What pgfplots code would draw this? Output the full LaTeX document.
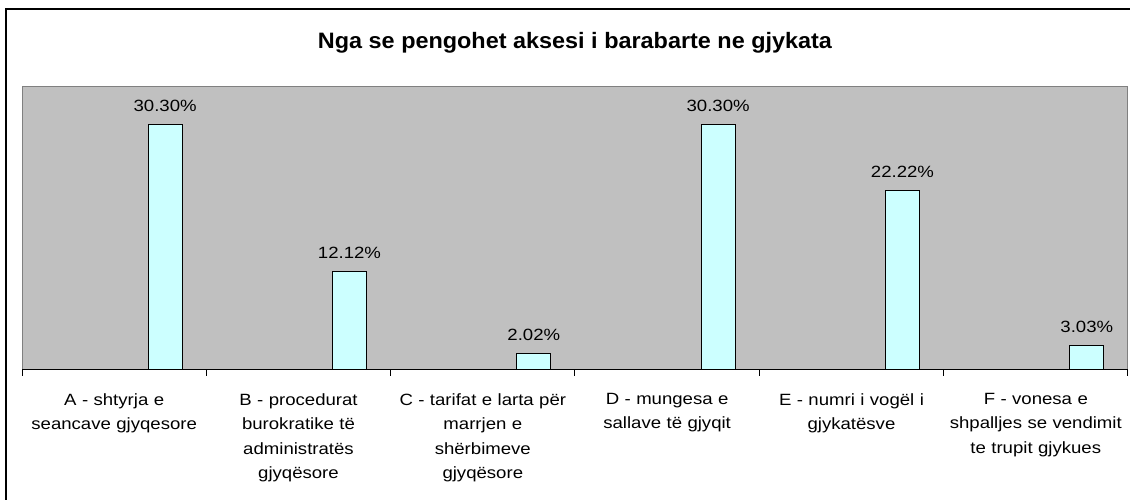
\documentclass[border=0pt]{standalone}
\usepackage{fontspec}
\setmainfont{Liberation Sans}
\newfontfamily\labfont[FakeStretch=1.14]{Liberation Sans}
\newfontfamily\titlefont[FakeStretch=1.05]{Liberation Sans}
\usepackage{pgfplots}
\pgfplotsset{compat=1.18}
\definecolor{plotgray}{HTML}{C0C0C0}
\definecolor{edgegray}{HTML}{808080}
\definecolor{barcyan}{HTML}{CCFFFF}
\begin{document}
\begin{tikzpicture}[x=1pt,y=1pt]
\useasboundingbox (0,0) rectangle (1130,500);
\fill[white] (0,0) rectangle (1130,500);
\draw[line width=2pt] (6,-5) -- (6,491) -- (1135,491);
\begin{axis}[
  at={(22pt,130pt)}, anchor=south west,
  width=1106pt, height=283pt, scale only axis,
  xmin=-0.5, xmax=5.5, ymin=0, ymax=35,
  ytick=\empty,
  xtick={0,1,2,3,4,5},
  xticklabels={{A - shtyrja e\\seancave gjyqesore},
               {B - procedurat\\burokratike të\\administratës\\gjyqësore},
               {C - tarifat e larta për\\marrjen e\\shërbimeve\\gjyqësore},
               {D - mungesa e\\sallave të gjyqit},
               {E - numri i vogël i\\gjykatësve},
               {F - vonesa e\\shpalljes se vendimit\\te trupit gjykues}},
  minor xtick={-0.5,0.5,1.5,2.5,3.5,4.5,5.5},
  major tick length=0pt, minor tick length=6pt,
  tick align=outside, xtick pos=bottom,
  tick style={black, line width=1pt},
  axis line style={draw=none},
  axis background/.style={fill=plotgray, draw=edgegray, line width=1pt},
  xticklabel style={font=\labfont\fontsize{16.3}{24.5}\selectfont, align=center, text width=180pt, anchor=north, inner sep=0pt, yshift=-23pt},
  ybar, bar width=34pt, bar shift=51pt,
  nodes near coords={\pgfmathprintnumber[fixed,fixed zerofill,precision=2,assume math mode=true]{\pgfplotspointmeta}\%},
  every node near coord/.append style={font=\labfont\fontsize{16.3}{19}\selectfont, anchor=base, yshift=13pt, inner sep=0pt, black},
  clip=false,
]
\addplot[fill=barcyan, draw=black, line width=1pt] coordinates {(0,30.30) (1,12.12) (2,2.02) (3,30.30) (4,22.22) (5,3.03)};
\draw[black, line width=1pt] (rel axis cs:0,0) -- (rel axis cs:1,0);
\end{axis}
\node[anchor=base, inner sep=0pt, font=\titlefont\bfseries\fontsize{22.3}{26}\selectfont] at (575,451) {Nga se pengohet aksesi i barabarte ne gjykata};
\end{tikzpicture}
\end{document}
